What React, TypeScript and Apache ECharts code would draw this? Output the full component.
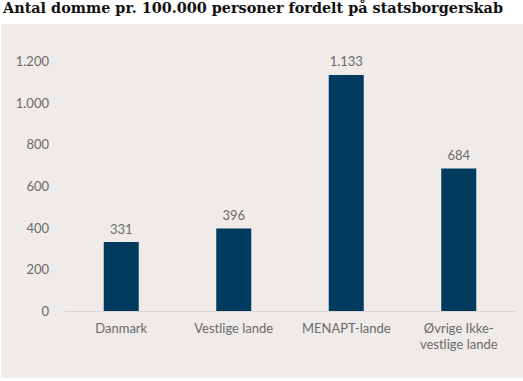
import React, { useEffect, useRef } from "react";
import * as echarts from "echarts";

const categories = ["Danmark", "Vestlige lande", "MENAPT-lande", "Øvrige Ikke-\nvestlige lande"];
const values = [331, 396, 1133, 684];
const titleText = "Antal domme pr. 100.000 personer fordelt på statsborgerskab";

const fmt = (v: number) => String(v).replace(/\B(?=(\d{3})+(?!\d))/g, ".");

export default function App() {
  const ref = useRef<HTMLDivElement>(null);
  useEffect(() => {
    document.body.style.margin = "0";
    const chart = echarts.init(ref.current!, null, { renderer: "svg" });
    chart.setOption({
      animation: false,
      backgroundColor: "#ffffff",
      graphic: [
        {
          type: "rect",
          left: 1,
          top: 24,
          shape: { width: 522, height: 354 },
          style: { fill: "#eeebe8" },
          z: -10,
        },
        {
          type: "text",
          left: 3,
          top: 0,
          style: {
            text: titleText,
            font: "bold 14.4px 'DejaVu Serif', serif",
            fill: "#111111",
          },
        },
      ],
      grid: { left: 65, right: 8, top: 61, bottom: 70, containLabel: false },
      xAxis: {
        type: "category",
        data: categories,
        axisLine: { show: true, lineStyle: { color: "#d9d6d3", width: 1 } },
        axisTick: { show: false },
        axisLabel: {
          color: "#6b6b6b",
          fontFamily: "Lato",
          fontSize: 13,
          lineHeight: 16,
          margin: 9,
          interval: 0,
        },
      },
      yAxis: {
        type: "value",
        min: 0,
        max: 1200,
        interval: 200,
        splitLine: { show: false },
        axisLine: { show: false },
        axisTick: { show: false },
        axisLabel: {
          color: "#6b6b6b",
          fontFamily: "Lato",
          fontSize: 13,
          margin: 16,
          formatter: (v: number) => fmt(v),
        },
      },
      series: [
        {
          type: "bar",
          data: values,
          barWidth: 35,
          itemStyle: { color: "#003a5f" },
          label: {
            show: true,
            position: "top",
            distance: 7,
            color: "#6b6b6b",
            fontFamily: "Lato",
            fontSize: 13,
            formatter: (p: any) => fmt(p.value),
          },
        },
      ],
    });
    return () => chart.dispose();
  }, []);
  return <div ref={ref} style={{ width: 523, height: 381 }} />;
}
